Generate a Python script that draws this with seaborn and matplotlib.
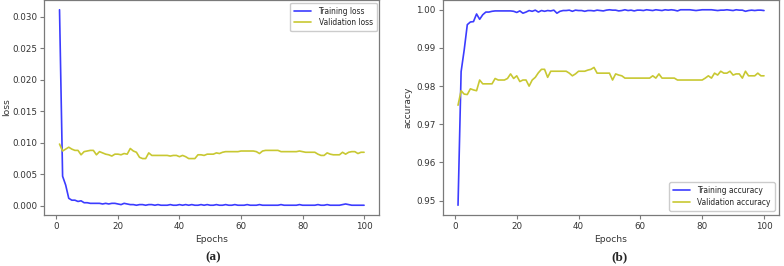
import numpy as np
import pandas as pd
import matplotlib
matplotlib.use("Agg")
import matplotlib.pyplot as plt
import seaborn as sns
from matplotlib.font_manager import FontProperties, fontManager

epochs = list(range(1, 101))

train_loss = [0.0311, 0.0047, 0.0033, 0.0012, 0.0009, 0.0009, 0.0007, 0.0008, 0.0005, 0.0005,
              0.0004, 0.0004, 0.0004, 0.0004, 0.0003, 0.0004, 0.0003, 0.0004, 0.0004, 0.0003,
              0.0002, 0.0004, 0.0003, 0.0002, 0.0002, 0.0001, 0.0002, 0.0002, 0.0001, 0.0002,
              0.0002, 0.0001, 0.0002, 0.0001, 0.0001, 0.0001, 0.0002, 0.0001, 0.0001, 0.0002,
              0.0001, 0.0002, 0.0001, 0.0002, 0.0001, 0.0001, 0.0002, 0.0001, 0.0002, 0.0001,
              0.0001, 0.0002, 0.0001, 0.0001, 0.0002, 0.0001, 0.0001, 0.0002, 0.0001, 0.0001,
              0.0001, 0.0002, 0.0001, 0.0001, 0.0001, 0.0002, 0.0001, 0.0001, 0.0001, 0.0001,
              0.0001, 0.0001, 0.0002, 0.0001, 0.0001, 0.0001, 0.0001, 0.0001, 0.0002, 0.0001,
              0.0001, 0.0001, 0.0001, 0.0001, 0.0002, 0.0001, 0.0001, 0.0002, 0.0001, 0.0001,
              0.0001, 0.0001, 0.0002, 0.0003, 0.0002, 0.0001, 0.0001, 0.0001, 0.0001, 0.0001]

val_loss = [0.0098, 0.0087, 0.0090, 0.0093, 0.0090, 0.0088, 0.0088, 0.0081, 0.0086, 0.0087,
            0.0088, 0.0088, 0.0081, 0.0086, 0.0084, 0.0082, 0.0081, 0.0079, 0.0082, 0.0082,
            0.0081, 0.0083, 0.0082, 0.0091, 0.0087, 0.0085, 0.0077, 0.0075, 0.0075, 0.0084,
            0.0080, 0.0080, 0.0080, 0.0080, 0.0080, 0.0080, 0.0079, 0.0080, 0.0080, 0.0078,
            0.0080, 0.0078, 0.0075, 0.0075, 0.0075, 0.0081, 0.0081, 0.0080, 0.0082, 0.0082,
            0.0082, 0.0084, 0.0083, 0.0085, 0.0086, 0.0086, 0.0086, 0.0086, 0.0086, 0.0087,
            0.0087, 0.0087, 0.0087, 0.0087, 0.0086, 0.0083, 0.0087, 0.0088, 0.0088, 0.0088,
            0.0088, 0.0088, 0.0086, 0.0086, 0.0086, 0.0086, 0.0086, 0.0086, 0.0087, 0.0086,
            0.0085, 0.0085, 0.0085, 0.0085, 0.0082, 0.0080, 0.0080, 0.0084, 0.0082, 0.0081,
            0.0081, 0.0081, 0.0085, 0.0082, 0.0085, 0.0086, 0.0086, 0.0083, 0.0085, 0.0085]

train_acc = [0.9488, 0.9838, 0.9895, 0.9961, 0.9968, 0.9969, 0.9989, 0.9975, 0.9987, 0.9994,
             0.9994, 0.9996, 0.9997, 0.9997, 0.9997, 0.9997, 0.9997, 0.9997, 0.9996, 0.9993,
             0.9997, 0.9991, 0.9994, 0.9998, 0.9996, 0.9999, 0.9994, 0.9998, 0.9996, 0.9998,
             0.9997, 0.9999, 0.9991, 0.9996, 0.9998, 0.9998, 0.9999, 0.9996, 0.9999, 0.9998,
             0.9998, 0.9996, 0.9998, 0.9998, 0.9997, 0.9999, 0.9998, 0.9997, 0.9999, 1.0000,
             0.9999, 0.9999, 0.9997, 0.9998, 1.0000, 0.9998, 0.9999, 0.9997, 0.9999, 0.9999,
             0.9998, 1.0000, 0.9999, 0.9998, 1.0000, 0.9999, 0.9998, 1.0000, 0.9999, 1.0000,
             0.9999, 0.9997, 1.0000, 1.0000, 1.0000, 1.0000, 0.9999, 0.9998, 0.9999, 1.0000,
             1.0000, 1.0000, 1.0000, 0.9999, 0.9998, 0.9999, 0.9999, 1.0000, 0.9999, 0.9998,
             1.0000, 0.9999, 0.9999, 0.9996, 0.9998, 0.9999, 0.9998, 0.9999, 0.9999, 0.9998]

val_acc = [0.9750, 0.9788, 0.9779, 0.9778, 0.9793, 0.9790, 0.9788, 0.9816, 0.9806, 0.9806,
           0.9806, 0.9806, 0.9820, 0.9816, 0.9816, 0.9816, 0.9820, 0.9832, 0.9820, 0.9827,
           0.9812, 0.9816, 0.9816, 0.9800, 0.9816, 0.9823, 0.9835, 0.9844, 0.9844, 0.9823,
           0.9839, 0.9839, 0.9839, 0.9839, 0.9839, 0.9839, 0.9834, 0.9827, 0.9832, 0.9839,
           0.9839, 0.9839, 0.9842, 0.9844, 0.9849, 0.9834, 0.9834, 0.9834, 0.9834, 0.9834,
           0.9816, 0.9832, 0.9829, 0.9827, 0.9821, 0.9821, 0.9821, 0.9821, 0.9821, 0.9821,
           0.9821, 0.9821, 0.9821, 0.9827, 0.9821, 0.9832, 0.9821, 0.9821, 0.9821, 0.9821,
           0.9821, 0.9816, 0.9816, 0.9816, 0.9816, 0.9816, 0.9816, 0.9816, 0.9816, 0.9816,
           0.9821, 0.9827, 0.9821, 0.9834, 0.9829, 0.9839, 0.9834, 0.9834, 0.9839, 0.9829,
           0.9832, 0.9832, 0.9821, 0.9839, 0.9827, 0.9827, 0.9827, 0.9834, 0.9827, 0.9827]

loss_labels = ["Training loss", "Validation loss"]
acc_labels = ["Training accuracy", "Validation accuracy"]
panel_labels = ["(a)", "(b)"]

BLUE = "#3c3cff"
YELLOW = "#c8c832"
SPINE = "#7a7a7a"
TEXT = "#333333"

sns.set_style("ticks")
plt.rcParams["font.family"] = ["DejaVu Sans"]

# pick a condensed font for the legend if one is installed
names = {f.name for f in fontManager.ttflist}
cond_files = [f.fname for f in fontManager.ttflist
              if ("Condensed" in f.fname or "Narrow" in f.fname) and "Bold" not in f.fname
              and "Oblique" not in f.fname and "Italic" not in f.fname]
if "Liberation Sans Narrow" in names:
    leg_prop = FontProperties(family="Liberation Sans Narrow", size=6.6)
elif cond_files:
    leg_prop = FontProperties(fname=sorted(cond_files)[0], size=6.0)
else:
    leg_prop = FontProperties(family="DejaVu Sans", size=5.6)

fig = plt.figure(figsize=(7.84, 2.66), dpi=100)
ax1 = fig.add_axes([0.0565, 0.1917, 0.4273, 0.8083])
ax2 = fig.add_axes([0.5647, 0.1917, 0.4293, 0.8083])

loss_df = pd.DataFrame({"epoch": epochs * 2,
                        "value": train_loss + val_loss,
                        "series": [loss_labels[0]] * 100 + [loss_labels[1]] * 100})
acc_df = pd.DataFrame({"epoch": epochs * 2,
                       "value": train_acc + val_acc,
                       "series": [acc_labels[0]] * 100 + [acc_labels[1]] * 100})

sns.lineplot(data=loss_df, x="epoch", y="value", hue="series",
             palette=[BLUE, YELLOW], linewidth=1.2, ax=ax1)
sns.lineplot(data=acc_df, x="epoch", y="value", hue="series",
             palette=[BLUE, YELLOW], linewidth=1.2, ax=ax2)

for ax, ylab, loc, lp, bap in [(ax1, "loss", "upper right", 1.0, 0.3),
                               (ax2, "accuracy", "lower right", 3.0, 0.5)]:
    for s in ax.spines.values():
        s.set_visible(True)
        s.set_color(SPINE)
        s.set_linewidth(0.9)
    ax.tick_params(axis="both", labelsize=6.3, colors=SPINE, labelcolor=TEXT,
                   length=3, width=0.8, direction="out", pad=2)
    ax.set_xlabel("Epochs", fontsize=6.6, color=TEXT, labelpad=3)
    ax.set_ylabel(ylab, fontsize=6.6, color=TEXT, labelpad=lp)
    ax.set_xticks([0, 20, 40, 60, 80, 100])
    leg = ax.legend(loc=loc, prop=leg_prop,
                    frameon=True, fancybox=True, framealpha=1,
                    edgecolor="#cccccc", borderpad=0.5, handlelength=2.0,
                    handletextpad=0.9, labelspacing=0.3, borderaxespad=bap)
    for line in leg.get_lines():
        line.set_linewidth(1.2)

ax1.set_yticks([0.000, 0.005, 0.010, 0.015, 0.020, 0.025, 0.030])
ax1.set_yticklabels([f"{v:.3f}" for v in [0.000, 0.005, 0.010, 0.015, 0.020, 0.025, 0.030]])
ax2.set_yticks([0.95, 0.96, 0.97, 0.98, 0.99, 1.00])
ax2.set_yticklabels([f"{v:.2f}" for v in [0.95, 0.96, 0.97, 0.98, 0.99, 1.00]])

fig.text(213 / 784, 1 - 257 / 266, panel_labels[0], ha="center", va="center",
         fontsize=9.5, fontweight="bold", family=["Liberation Serif", "DejaVu Serif"])
fig.text(619 / 784, 1 - 257 / 266, panel_labels[1], ha="center", va="center",
         fontsize=9.5, fontweight="bold", family=["Liberation Serif", "DejaVu Serif"])

fig.savefig("out.png", dpi=100, facecolor="white")
